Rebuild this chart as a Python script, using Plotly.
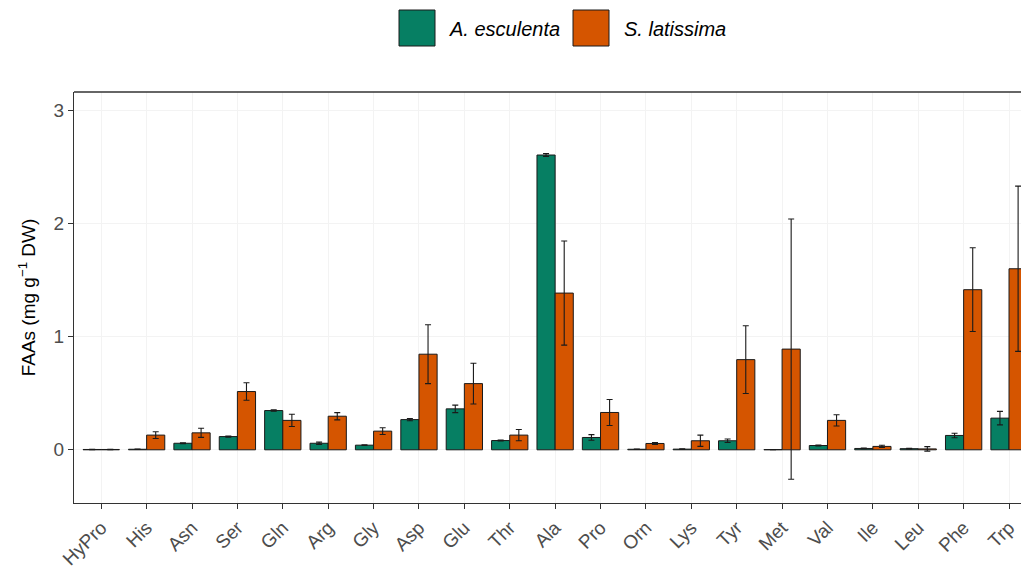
import plotly.graph_objects as go

categories = ["HyPro", "His", "Asn", "Ser", "Gln", "Arg", "Gly", "Asp", "Glu", "Thr", "Ala",
              "Pro", "Orn", "Lys", "Tyr", "Met", "Val", "Ile", "Leu", "Phe", "Trp"]
esculenta = [0.003, 0.005, 0.058, 0.117, 0.347, 0.058, 0.041, 0.267, 0.362, 0.082, 2.605,
             0.109, 0.005, 0.006, 0.080, 0.002, 0.038, 0.012, 0.010, 0.127, 0.280]
esculenta_err = [0.001, 0.001, 0.004, 0.005, 0.006, 0.010, 0.003, 0.010, 0.033, 0.004, 0.012,
                 0.025, 0.002, 0.002, 0.015, 0.000, 0.004, 0.003, 0.003, 0.020, 0.060]
latissima = [0.003, 0.130, 0.150, 0.515, 0.260, 0.297, 0.165, 0.845, 0.585, 0.130, 1.385,
             0.330, 0.056, 0.080, 0.797, 0.890, 0.260, 0.030, 0.008, 1.415, 1.600]
latissima_err = [0.001, 0.030, 0.040, 0.077, 0.054, 0.032, 0.030, 0.260, 0.180, 0.050, 0.460,
                 0.115, 0.008, 0.050, 0.300, 1.150, 0.050, 0.010, 0.020, 0.370, 0.730]
series_names = ["A. esculenta", "S. latissima"]
colors = ["#067f63", "#d55500"]

# page body adds an 8px offset; layout is computed in figure pixels
OFF = 8
W, H = 1029, 573
ML, MR, MT, MB = 74 - OFF, OFF, 92 - OFF, 70 + OFF

fig = go.Figure()
for name, vals, errs, col in [(series_names[0], esculenta, esculenta_err, colors[0]),
                              (series_names[1], latissima, latissima_err, colors[1])]:
    fig.add_trace(go.Bar(
        x=categories, y=vals, name=name, showlegend=False,
        marker=dict(color=col, line=dict(color="#1a1a1a", width=1)),
        error_y=dict(type="data", array=errs, visible=True, color="#1a1a1a",
                     thickness=1.1, width=3),
    ))

# manual legend (large squares like ggplot), positions given in screen pixels
pw = W - ML - MR
ph = H - MT - MB
def px2paper(x, y):
    fx, fy = x - OFF, y - OFF
    return (fx - ML) / pw, (H - MB - fy) / ph

legend_items = [(series_names[0], colors[0], 399, 447), (series_names[1], colors[1], 573, 622)]
for name, col, sx, tx in legend_items:
    x0, y0 = px2paper(sx, 10)
    x1, y1 = px2paper(sx + 36, 46)
    fig.add_shape(type="rect", xref="paper", yref="paper", x0=x0, x1=x1, y0=y1, y1=y0,
                  fillcolor=col, line=dict(color="#1a1a1a", width=1))
    ax, ay = px2paper(tx, 29)
    fig.add_annotation(xref="paper", yref="paper", x=ax, y=ay, xanchor="left", yanchor="middle",
                       text="<i>" + name + "</i>", showarrow=False,
                       font=dict(family="Liberation Sans, Arial", size=20, color="#000000"))

fig.update_layout(
    width=W, height=H,
    margin=dict(l=ML, r=MR, t=MT, b=MB, autoexpand=False),
    paper_bgcolor="white", plot_bgcolor="white",
    barmode="group", bargap=0.2, bargroupgap=0.0,
    font=dict(family="Liberation Sans, Arial", size=16, color="#4d4d4d"),
)
fig.update_xaxes(
    range=[-0.6, 20.44], showgrid=True, gridcolor="#f3f3f3", gridwidth=1,
    showline=True, linecolor="#333333", linewidth=1.3, mirror=False, automargin=False,
    ticks="outside", ticklen=5, tickcolor="#333333", tickwidth=1.3,
    tickangle=-45, tickfont=dict(size=19, color="#4d4d4d"), zeroline=False,
)
fig.update_yaxes(
    range=[-0.47, 3.162], tickvals=[0, 1, 2, 3], showgrid=True, gridcolor="#f3f3f3", gridwidth=1,
    showline=True, linecolor="#333333", linewidth=1.3, mirror=False, automargin=False,
    ticks="outside", ticklen=5, tickcolor="#333333", tickwidth=1.3,
    tickfont=dict(size=19, color="#4d4d4d"), zeroline=False,
    title=dict(text="FAAs (mg g<sup>−1</sup> DW)", font=dict(size=19, color="#000000"), standoff=12),
)
# top frame line
fig.add_shape(type="line", xref="paper", yref="paper", x0=0, x1=1, y0=1, y1=1,
              line=dict(color="#333333", width=1.3))

fig.write_html("out.html")
